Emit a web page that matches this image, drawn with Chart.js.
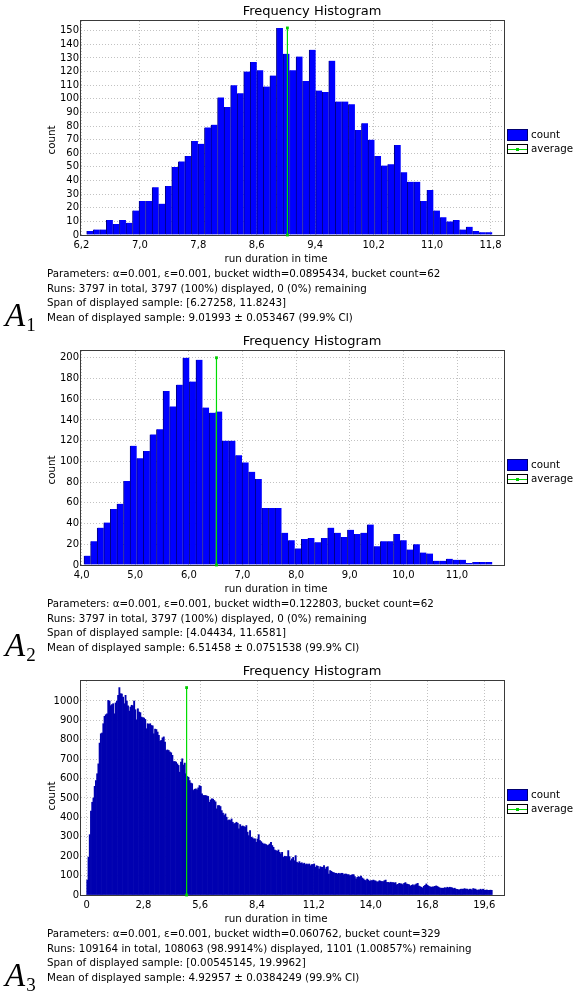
<!DOCTYPE html>
<html><head><meta charset="utf-8">
<script src="https://cdn.jsdelivr.net/npm/chart.js@4.4.1/dist/chart.umd.min.js"></script>
<style>
html,body{margin:0;padding:0;background:#fff;}
body{width:573px;height:992px;position:relative;overflow:hidden;font-family:"DejaVu Sans",sans-serif;}
.panel{position:absolute;left:0;width:573px;height:330px;}
.panel canvas{position:absolute;left:0;top:0;}
.info{position:absolute;left:47px;top:266px;font-size:10.3px;line-height:14.67px;color:#000;white-space:nowrap;}
.lab{position:absolute;left:5px;top:299px;font-family:"Liberation Serif",serif;font-style:italic;font-size:33px;line-height:33px;color:#000;}
.lab sub{font-style:normal;font-size:19px;vertical-align:baseline;position:relative;top:5px;margin-left:1px;}
</style></head><body>

<div class="panel" style="top:0px"><canvas id="c1" width="573" height="270"></canvas>
<div class="info" id="t1"></div><div class="lab">A<sub>1</sub></div></div>
<div class="panel" style="top:330px"><canvas id="c2" width="573" height="270"></canvas>
<div class="info" id="t2"></div><div class="lab">A<sub>2</sub></div></div>
<div class="panel" style="top:660px"><canvas id="c3" width="573" height="270"></canvas>
<div class="info" id="t3"></div><div class="lab">A<sub>3</sub></div></div>

<script>
// ---------------- data ----------------
const counts1 = [3,4,4,11,8,11,9,18,25,25, 35,23,36,50,54,58,69,67,79,81,
  101,94,110,104,120,127,121,109,117,152, 133,121,131,113,136,106,105,128,98,98,
  96,77,82,70,58,51,52,66,46,39, 39,25,33,18,13,10,11,4,6,3, 2,2];
const counts2 = [9,23,36,41,54,59,81,115,103,110, 126,131,168,153,174,200,177,198,152,147,
  148,120,120,106,99,90,83,55,55,55, 31,24,16,25,26,22,26,36,31,27,
  34,30,31,39,18,23,23,30,24,15, 20,12,11,4,4,6,5,5,2,3, 3,3];
const counts3 = [77,195,311,432,478,500,560,590,625,676,
  783,831,835,883,921,929,934,1003,1000,976,
  981,986,934,990,1000,1029,1069,1038,1036,1020,
  986,1029,1000,975,948,969,978,975,1000,955,
  903,960,943,940,917,914,912,905,857,883,
  880,883,874,872,831,855,853,840,823,793,
  797,810,815,788,745,748,745,737,733,720,
  688,688,685,676,668,633,685,702,670,680,
  625,611,607,590,577,574,539,545,547,542,
  552,564,560,521,513,513,513,510,508,478,
  490,496,494,487,480,444,461,
  461,456,435,422,410,418,401,384,387,384,
  392,375,367,370,375,370,341,363,353,356,
  353,349,358,324,306,332,298,295,289,289,
  272,289,311,281,275,268,263,263,260,255,
  258,263,272,255,246,232,229,225,232,220,
  212,220,194,200,198,198,229,198,177,186,
  194,177,203,169,164,172,164,166,160,164,
  157,160,157,160,151,157,157,160,143,151,
  148,134,146,143,143,151,134,143,146,108,
  126,122,117,115,112,112,108,112,108,112,
  112,105,108,108,105,105,100,102,105,105,
  95,83,91,
  95,91,98,88,83,77,74,82,77,71,
  74,74,77,74,72,67,69,74,71,69,
  69,74,77,65,65,63,66,64,64,62,
  64,53,55,60,58,57,53,60,64,57,
  55,53,46,50,53,48,53,57,60,46,
  43,40,36,45,50,57,50,45,42,40,
  42,42,45,47,44,40,36,35,35,35,
  38,35,40,37,40,38,37,33,35,30,
  29,27,27,30,30,30,33,30,30,26,
  30,30,26,33,31,30,24,26,26,30,
  26,30,26,24,26,24,24,25,24];

const bucketStart = [6.27258, 4.04434, 0.00545145];
const bucketWidth = [0.0895434, 0.122803, 0.060762];
const means = [9.01993, 6.51458, 4.92957];

const xTicks1 = [6.2, 7.0, 7.8, 8.6, 9.4, 10.2, 11.0, 11.8];
const xLabels1 = ['6,2','7,0','7,8','8,6','9,4','10,2','11,0','11,8'];
const xTicks2 = [4, 5, 6, 7, 8, 9, 10, 11];
const xLabels2 = ['4,0','5,0','6,0','7,0','8,0','9,0','10,0','11,0'];
const xTicks3 = [0, 2.8, 5.6, 8.4, 11.2, 14.0, 16.8, 19.6];
const xLabels3 = ['0','2,8','5,6','8,4','11,2','14,0','16,8','19,6'];
const yTicks1 = [0,10,20,30,40,50,60,70,80,90,100,110,120,130,140,150];
const yTicks2 = [0,20,40,60,80,100,120,140,160,180,200];
const yTicks3 = [0,100,200,300,400,500,600,700,800,900,1000];

const infoLines = [
  ['Parameters: α=0.001, ε=0.001, bucket width=0.0895434, bucket count=62',
   'Runs: 3797 in total, 3797 (100%) displayed, 0 (0%) remaining',
   'Span of displayed sample: [6.27258, 11.8243]',
   'Mean of displayed sample: 9.01993 ± 0.053467 (99.9% CI)'],
  ['Parameters: α=0.001, ε=0.001, bucket width=0.122803, bucket count=62',
   'Runs: 3797 in total, 3797 (100%) displayed, 0 (0%) remaining',
   'Span of displayed sample: [4.04434, 11.6581]',
   'Mean of displayed sample: 6.51458 ± 0.0751538 (99.9% CI)'],
  ['Parameters: α=0.001, ε=0.001, bucket width=0.060762, bucket count=329',
   'Runs: 109164 in total, 108063 (98.9914%) displayed, 1101 (1.00857%) remaining',
   'Span of displayed sample: [0.00545145, 19.9962]',
   'Mean of displayed sample: 4.92957 ± 0.0384249 (99.9% CI)']
];

// ---------------- drawing ----------------
const FONT = '"DejaVu Sans", sans-serif';
const deco = {
  id: 'deco',
  afterDatasetDraw(chart, args) {
    if (args.index !== 0) return;
    const {ctx, chartArea: a} = chart;
    ctx.save();
    ctx.strokeStyle = '#3a3a3a'; ctx.lineWidth = 1;
    ctx.strokeRect(a.left - 0.5, a.top - 0.5, a.width + 1, a.height + 1);
    ctx.restore();
  },
  afterDraw(chart, args, o) {
    const ctx = chart.ctx;
    ctx.save();
    ctx.fillStyle = '#000'; ctx.textBaseline = 'middle'; ctx.textAlign = 'center';
    ctx.font = '13px ' + FONT;
    ctx.fillText('Frequency Histogram', 312, 12);
    ctx.font = '10.3px ' + FONT;
    ctx.fillText('run duration in time', 276, 259);
    ctx.save(); ctx.translate(52, o.yTitleY); ctx.rotate(-Math.PI / 2);
    ctx.fillText('count', 0, 0); ctx.restore();
    // legend
    ctx.fillStyle = '#0000ff'; ctx.fillRect(507, 129, 21, 12);
    ctx.strokeStyle = '#000070'; ctx.lineWidth = 1; ctx.strokeRect(507.5, 129.5, 20, 11);
    ctx.fillStyle = '#fff'; ctx.fillRect(507, 144, 21, 10);
    ctx.strokeStyle = '#000'; ctx.strokeRect(507.5, 144.5, 20, 9);
    ctx.strokeStyle = '#00dd00'; ctx.beginPath(); ctx.moveTo(508, 149.5); ctx.lineTo(527, 149.5); ctx.stroke();
    ctx.fillStyle = '#00cc00'; ctx.fillRect(516, 148, 3, 3);
    ctx.fillStyle = '#000'; ctx.textAlign = 'left';
    ctx.fillText('count', 531, 135.5);
    ctx.fillText('average', 531, 149.5);
    ctx.restore();
  }
};

function makeChart(id, cfg) {
  const pts = cfg.counts.map((c, i) => ({x: cfg.lo + (i + 0.5) * cfg.bw, y: c}));
  const peak = Math.max(...cfg.counts);
  const tickFont = {family: FONT, size: 10};
  new Chart(document.getElementById(id), {
    type: 'bar',
    data: {datasets: [
      {label: 'count', data: pts, backgroundColor: cfg.fill, borderColor: cfg.edge,
       borderWidth: cfg.edgeW, borderSkipped: false, barPercentage: 1, categoryPercentage: 1, order: 2},
      {type: 'line', label: 'average', data: [{x: cfg.mean, y: 0}, {x: cfg.mean, y: peak}],
       borderColor: '#00dd00', borderWidth: 1.2, pointStyle: 'rect', pointRadius: 2,
       pointBackgroundColor: '#00cc00', pointBorderColor: '#00cc00', pointBorderWidth: 0,
       clip: false, order: 1, tension: 0}
    ]},
    options: {
      responsive: false, animation: false, events: [], devicePixelRatio: 1,
      layout: {padding: {left: 0, top: 21, right: 69, bottom: 0}},
      plugins: {legend: {display: false}, tooltip: {enabled: false}, title: {display: false},
        deco: {yTitleY: cfg.yTitleY}},
      scales: {
        x: {type: 'linear', min: cfg.xmin, max: cfg.xmax, offset: false,
          afterBuildTicks: s => { s.ticks = cfg.xTicks.map(v => ({value: v})); },
          afterFit: s => { s.height = 35; },
          ticks: {autoSkip: false, maxRotation: 0, minRotation: 0, padding: 4, color: '#000', font: tickFont,
            callback: (v, i) => cfg.xLabels[i]},
          grid: {color: '#c2c2c2', drawTicks: false, offset: false, lineWidth: 1},
          border: {display: false, dash: [1, 2]}},
        y: {type: 'linear', min: 0, max: cfg.ymax,
          afterBuildTicks: s => { s.ticks = cfg.yTicks.map(v => ({value: v})); },
          afterFit: s => { s.width = 81; },
          ticks: {autoSkip: false, padding: 2, color: '#000', font: tickFont, callback: v => String(v)},
          grid: {color: '#c2c2c2', drawTicks: false, lineWidth: 1},
          border: {display: false, dash: [1, 2]}}
      }
    },
    plugins: [deco]
  });
}

makeChart('c1', {counts: counts1, lo: bucketStart[0], bw: bucketWidth[0], mean: means[0],
  xmin: 6.1946, xmax: 11.9844, ymax: 157.1, xTicks: xTicks1, xLabels: xLabels1, yTicks: yTicks1,
  fill: '#0000ff', edge: '#000080', edgeW: {left: 1, right: 0, top: 0, bottom: 0}, yTitleY: 140});
makeChart('c2', {counts: counts2, lo: bucketStart[1], bw: bucketWidth[1], mean: means[1],
  xmin: 3.9884, xmax: 11.8763, ymax: 206.5, xTicks: xTicks2, xLabels: xLabels2, yTicks: yTicks2,
  fill: '#0000ff', edge: '#000080', edgeW: {left: 1, right: 0, top: 0, bottom: 0}, yTitleY: 140});
makeChart('c3', {counts: counts3, lo: bucketStart[2], bw: bucketWidth[2], mean: means[2],
  xmin: -0.2755, xmax: 20.5728, ymax: 1103, xTicks: xTicks3, xLabels: xLabels3, yTicks: yTicks3,
  fill: '#0000b0', edge: '#0000b0', edgeW: 0, yTitleY: 136});

['t1','t2','t3'].forEach((id, k) => {
  const el = document.getElementById(id);
  infoLines[k].forEach(t => { const d = document.createElement('div'); d.textContent = t; el.appendChild(d); });
});
</script>
</body></html>
